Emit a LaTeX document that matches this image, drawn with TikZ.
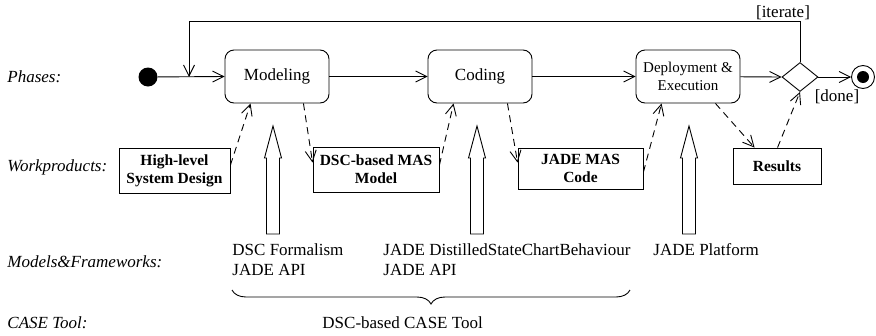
\documentclass[tikz,border=0pt]{standalone}
\usepackage{fontspec}
\setmainfont{Liberation Serif}
\usetikzlibrary{arrows.meta,shapes.geometric,decorations.pathreplacing}
\begin{document}
\begin{tikzpicture}[x=1pt,y=-1pt,line width=0.9pt,
  tip/.style={-{Straight Barb[length=11pt,width=11pt,line width=0.9pt]}},
  flow/.style={tip},
  dflow/.style={tip,dash pattern=on 7pt off 5pt},
  phase/.style={draw,rounded corners=9pt,minimum width=104pt,minimum height=53pt,inner sep=0pt,align=center,font=\fontsize{17}{18}\selectfont},
  wprod/.style={draw,inner sep=0pt,align=center,font=\fontsize{15.5}{18}\selectfont\bfseries},
  lbl/.style={anchor=west,inner sep=0pt,font=\fontsize{17}{20}\selectfont\itshape},
  txt/.style={anchor=base west,inner sep=0pt,font=\fontsize{17}{20}\selectfont},
  guard/.style={inner sep=0pt,font=\fontsize{17}{20}\selectfont}]
\useasboundingbox (0,0) rectangle (876,335);

% left labels
\node[lbl] (lp) at (7,77) {Phases:};
\node[lbl] (lw) at (7,167) {Workproducts:};
\node[lbl] (lm) at (7,262) {Models\&Frameworks:};
\node[lbl] (lc) at (7,323) {CASE Tool:};

% phases
\node[circle,fill=black,minimum size=19pt,inner sep=0pt] (init) at (148,77) {};
\coordinate (j) at (189,77);
\node[phase] (mod) at (277,76.5) {Modeling};
\node[phase] (cod) at (480,76.5) {Coding};
\node[phase,font=\fontsize{15}{18}\selectfont] (dep) at (688,76.5) {Deployment \&\\Execution};
\node[diamond,draw,minimum width=36pt,minimum height=29pt,inner sep=0pt,aspect=1.24] (dia) at (800,77) {};
\node[circle,draw,minimum size=23pt,inner sep=0pt] (fin) at (863,77) {};
\node[circle,fill=black,minimum size=12pt,inner sep=0pt] (finin) at (863,77) {};

\draw[flow] (init) -- (mod.west);
\draw[flow] (mod) -- (cod);
\draw[flow] (cod) -- (dep);
\draw[flow] (dep) -- (dia.west);
\draw[flow] (dia.east) -- (fin);
\draw[flow] (dia.north) |- (189,21) -- (j);
\node[guard] (it) at (783,13) {[iterate]};
\node[guard] (dn) at (837,97) {[done]};

% workproducts
\node[wprod,minimum width=111pt,minimum height=45pt] (hl) at (174.5,170.5) {High-level\\System Design};
\node[wprod,minimum width=126pt,minimum height=45pt] (dsc) at (376,169.5) {DSC-based MAS\\Model};
\node[wprod,minimum width=125pt,minimum height=41pt] (jade) at (580.5,168.5) {JADE MAS\\Code};
\node[wprod,minimum width=88pt,minimum height=36pt] (res) at (777,166) {Results};

\draw[dflow] ([yshift=5.5pt]hl.east) -- ([xshift=26pt]mod.south west);
\draw[dflow] ([xshift=-26pt]mod.south east) -- ([yshift=-16pt]dsc.north west);
\draw[dflow] ([yshift=4.5pt]dsc.east) -- ([xshift=26pt]cod.south west);
\draw[dflow] ([xshift=-25pt]cod.south east) -- ([yshift=-15pt]jade.north west);
\draw[dflow] ([yshift=-3.5pt]jade.east) -- ([xshift=26pt]dep.south west);
\draw[dflow] ([xshift=-25pt]dep.south east) -- ([xshift=22pt]res.north west);
\draw[dflow] ([xshift=45pt]res.north west) -- (dia.south);

% block arrows
\foreach \bx in {273,477,689}{
  \draw (\bx-6.5,234) -- (\bx-6.5,158) -- (\bx-8.5,158) -- (\bx,126)
     -- (\bx+8.5,158) -- (\bx+6.5,158) -- (\bx+6.5,234) -- cycle;
}

% models & frameworks
\node[txt] (m1) at (232,255) {DSC Formalism};
\node[txt] (m1b) at (232,275) {JADE API};
\node[txt] (m2) at (383,255) {JADE DistilledStateChartBehaviour};
\node[txt] (m2b) at (383,275) {JADE API};
\node[txt] (m3) at (653,255) {JADE Platform};

% brace
\coordinate (bl) at (232,290);
\coordinate (br) at (630,290);
\draw[decorate,decoration={brace,amplitude=14pt,aspect=0.5}] (br) -- (bl);
\node[txt] (ct) at (322,328) {DSC-based CASE Tool};
\end{tikzpicture}
\end{document}
